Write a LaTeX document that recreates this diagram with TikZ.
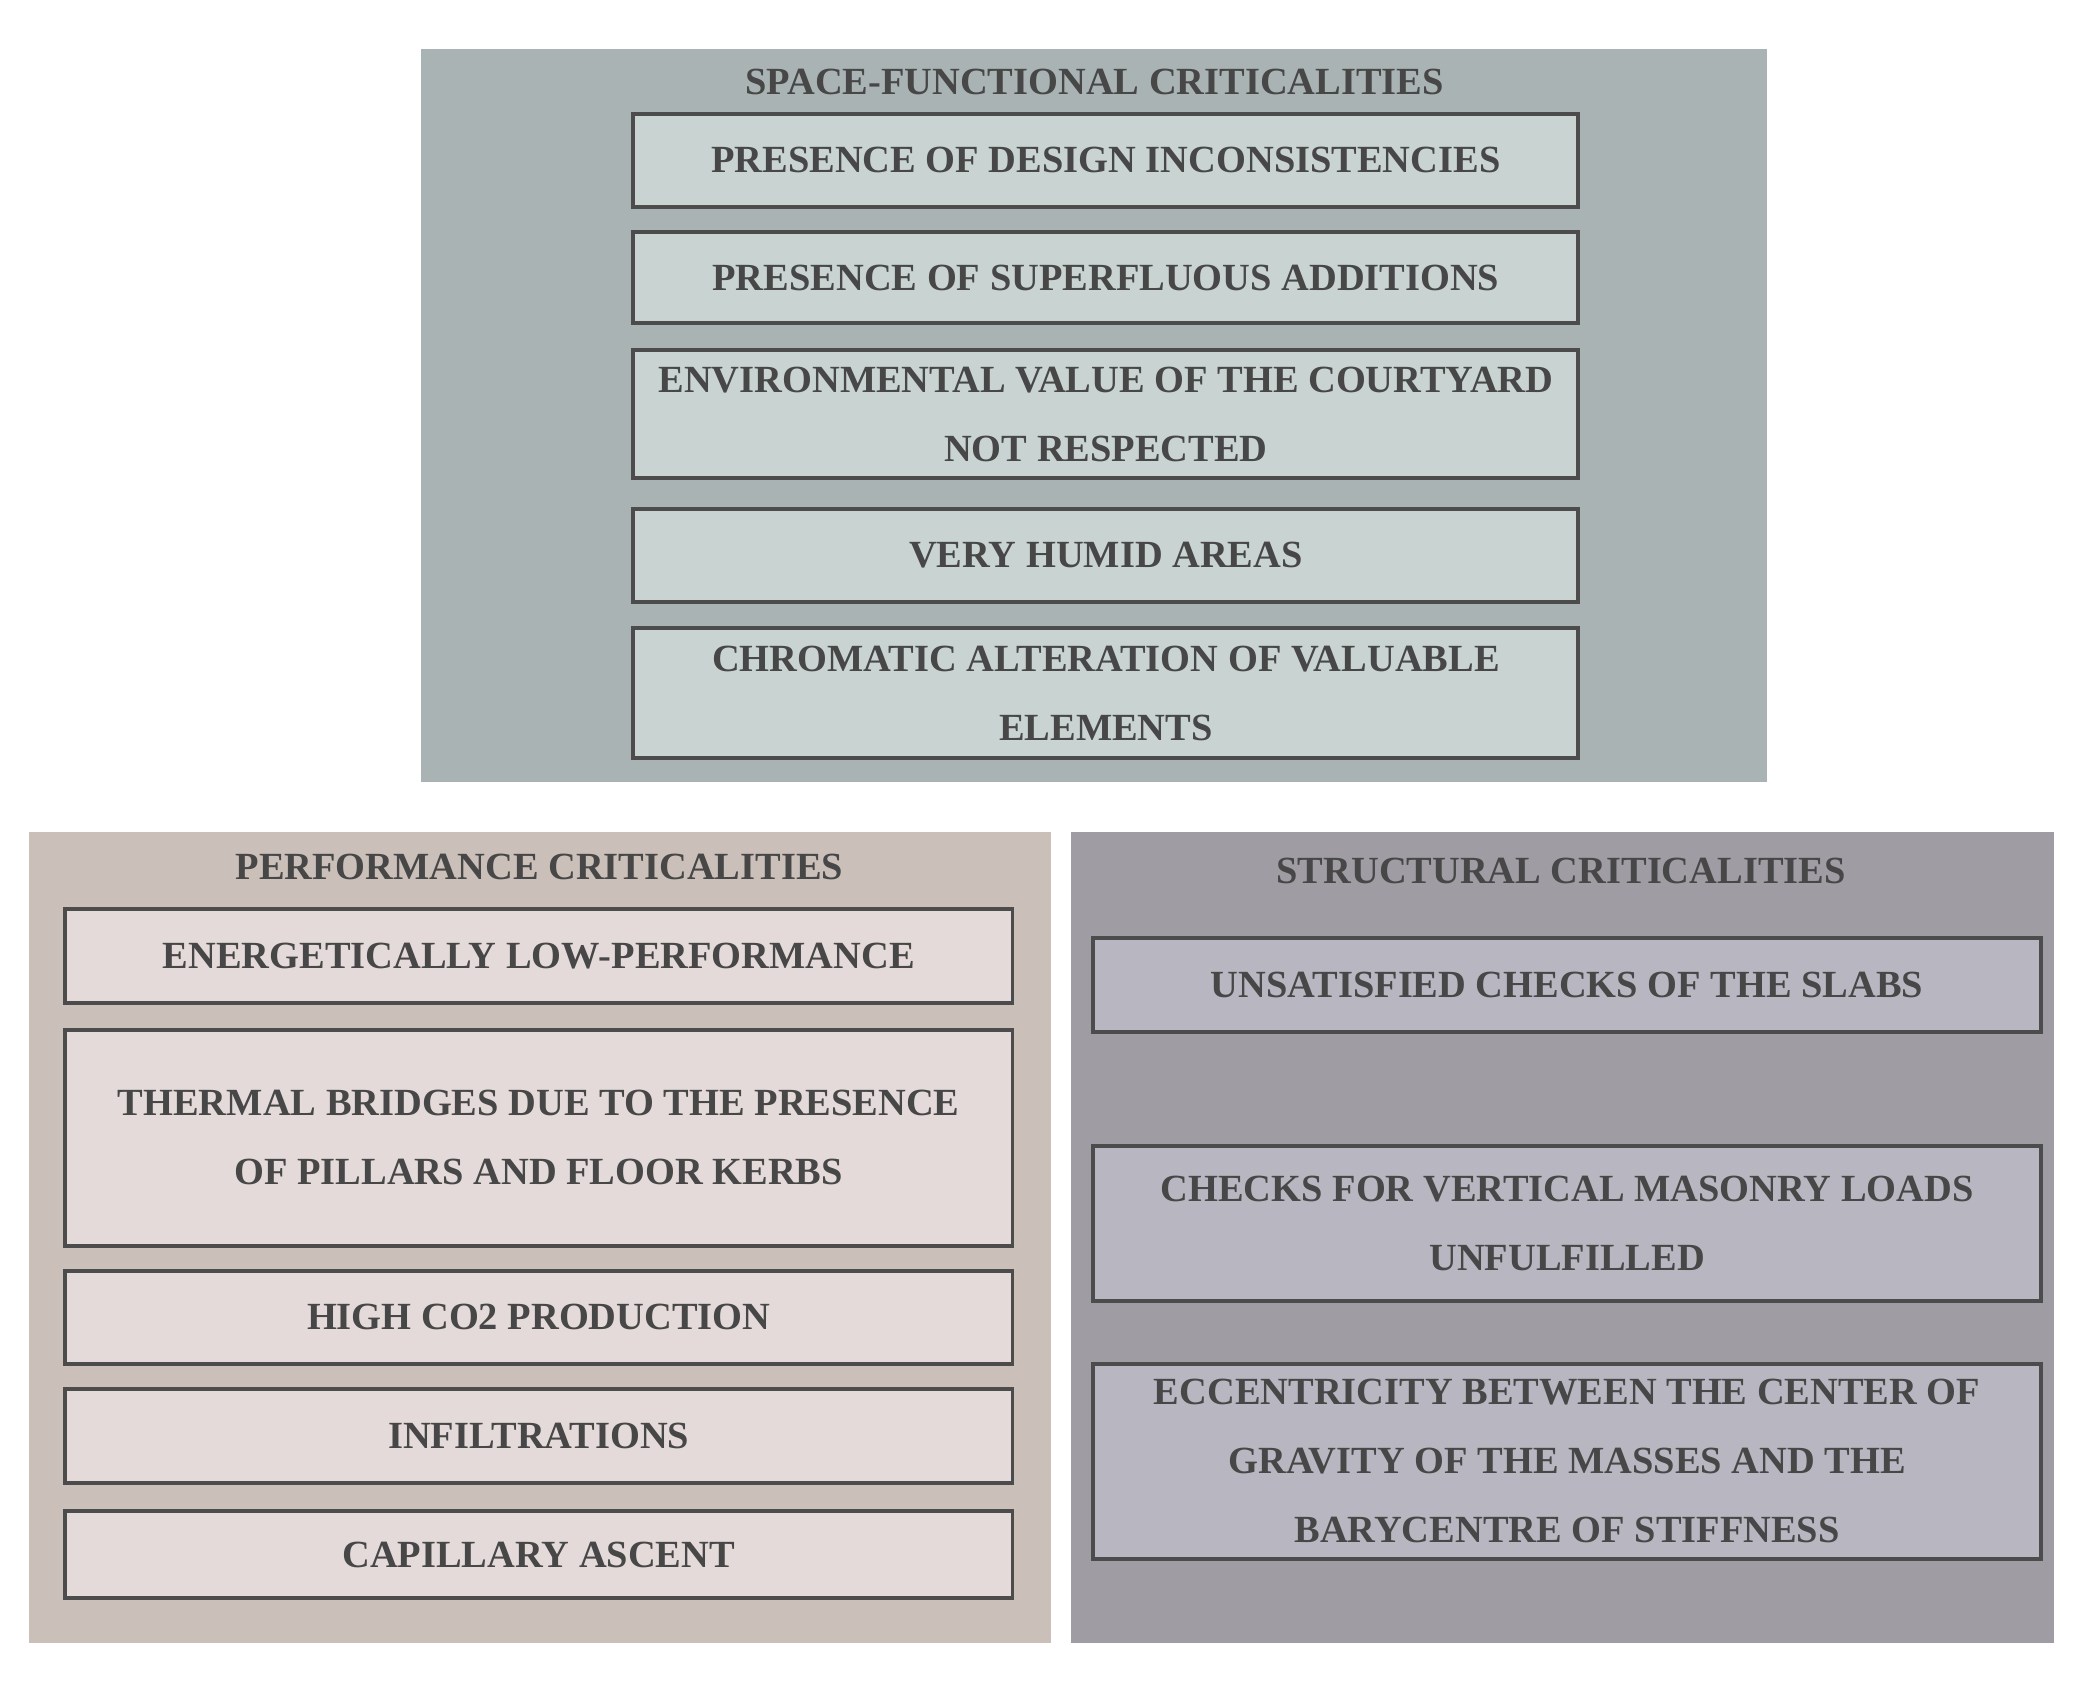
\documentclass[tikz,border=0pt]{standalone}
\usepackage{fontspec}
\setmainfont{Liberation Serif}
\begin{document}
\begin{tikzpicture}[x=0.5pt,y=-0.5pt,
 panel/.style={draw=none},
 ttl/.style={font=\bfseries\fontsize{14.5}{16}\selectfont,text=black!72},
 box/.style={draw=black!70,line width=1.5pt,font=\bfseries\fontsize{14.5}{26}\selectfont,text=black!72,align=center}]
\fill[white] (0,0) rectangle (1568,1274);
\useasboundingbox (0,0) rectangle (1568,1274);
% top
\fill[fill={rgb,255:red,170;green,179;blue,179}] (318,37) rectangle (1333,590);
\node[ttl] (t1) at (826,62) {SPACE-FUNCTIONAL CRITICALITIES};
\tikzset{tb/.style={box,fill={rgb,255:red,200;green,211;blue,210}}}
\filldraw[tb] (478,86) rectangle (1191,156) node[pos=.5] (a1) {PRESENCE OF DESIGN INCONSISTENCIES};
\filldraw[tb] (478,175) rectangle (1191,244) node[pos=.5] (a2) {PRESENCE OF SUPERFLUOUS ADDITIONS};
\filldraw[tb] (478,264) rectangle (1191,361) node[pos=.5] (a3) {ENVIRONMENTAL VALUE OF THE COURTYARD\\NOT RESPECTED};
\filldraw[tb] (478,384) rectangle (1191,454) node[pos=.5] (a4) {VERY HUMID AREAS};
\filldraw[tb] (478,474) rectangle (1191,572) node[pos=.5] (a5) {CHROMATIC ALTERATION OF VALUABLE\\ELEMENTS};
% left
\fill[fill={rgb,255:red,203;green,191;blue,185}] (22,628) rectangle (793,1240);
\node[ttl] (t2) at (407,654) {PERFORMANCE CRITICALITIES};
\tikzset{lb/.style={box,fill={rgb,255:red,228;green,218;blue,217}}}
\filldraw[lb] (49,686) rectangle (764,757) node[pos=.5] (b1) {ENERGETICALLY LOW-PERFORMANCE};
\filldraw[lb] (49,777) rectangle (764,940) node[pos=.5] (b2) {THERMAL BRIDGES DUE TO THE PRESENCE\\OF PILLARS AND FLOOR KERBS};
\filldraw[lb] (49,959) rectangle (764,1029) node[pos=.5] (b3) {HIGH CO2 PRODUCTION};
\filldraw[lb] (49,1048) rectangle (764,1119) node[pos=.5] (b4) {INFILTRATIONS};
\filldraw[lb] (49,1140) rectangle (764,1206) node[pos=.5] (b5) {CAPILLARY ASCENT};
% right
\fill[fill={rgb,255:red,160;green,156;blue,163}] (808,628) rectangle (1550,1240);
\node[ttl] (t3) at (1178,657) {STRUCTURAL CRITICALITIES};
\tikzset{rb/.style={box,fill={rgb,255:red,184;green,182;blue,192}}}
\filldraw[rb] (825,708) rectangle (1540,779) node[pos=.5] (c1) {UNSATISFIED CHECKS OF THE SLABS};
\filldraw[rb] (825,865) rectangle (1540,982) node[pos=.5] (c2) {CHECKS FOR VERTICAL MASONRY LOADS\\UNFULFILLED};
\filldraw[rb] (825,1029) rectangle (1540,1176) node[pos=.5] (c3) {ECCENTRICITY BETWEEN THE CENTER OF\\GRAVITY OF THE MASSES AND THE\\BARYCENTRE OF STIFFNESS};
\end{tikzpicture}
\end{document}
